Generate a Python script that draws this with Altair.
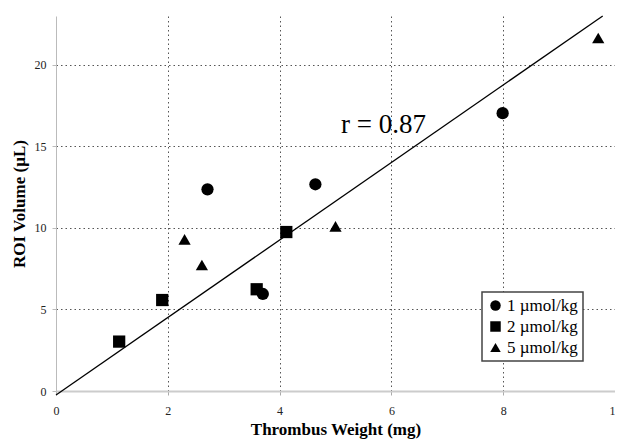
import altair as alt
import pandas as pd

# ---- data ----
dose_labels = ["1 µmol/kg", "2 µmol/kg", "5 µmol/kg"]
x_1 = [2.71, 3.70, 4.64, 7.99]
y_1 = [12.37, 5.95, 12.68, 17.04]
x_2 = [1.13, 1.90, 3.59, 4.12]
y_2 = [3.03, 5.58, 6.24, 9.75]
x_5 = [2.30, 2.61, 5.00, 9.70]
y_5 = [9.30, 7.73, 10.10, 21.65]
fit_x = [0.0, 9.78]
fit_y = [-0.25, 23.0]
r_label = ["r = 0.87"]
r_x = [5.1]
r_y = [15.8]
x_ticks = [0, 2, 4, 6, 8, 10]
y_ticks = [0, 5, 10, 15, 20]

FONT = "Liberation Serif"

pts = pd.DataFrame({
    "x": x_1 + x_2 + x_5,
    "y": y_1 + y_2 + y_5,
    "dose": [dose_labels[0]] * len(x_1) + [dose_labels[1]] * len(x_2) + [dose_labels[2]] * len(x_5),
})
fit = pd.DataFrame({"x": fit_x, "y": fit_y})
lab = pd.DataFrame({"x": r_x, "y": r_y, "t": r_label})

xscale = alt.Scale(domain=[0, 10], nice=False, zero=False)
yscale = alt.Scale(domain=[0, 23], nice=False, zero=False)

grid_op = {"condition": {"test": "datum.value === 0", "value": 0}, "value": 1}

xaxis = alt.Axis(
    values=x_ticks, title="Thrombus Weight (mg)", titleFont=FONT, titleFontSize=17,
    titleFontWeight="bold", titleColor="black", titleY=43, titleBaseline="alphabetic",
    labelFont=FONT, labelFontSize=12, labelColor="#222", labelPadding=10,
    labelFlush=False, labelOverlap=False,
    tickSize=4, tickColor="#aaa", domainColor="#cccccc", domainWidth=2,
    grid=True, gridDash=[1.5, 3], gridColor="#555", gridWidth=1, gridOpacity=grid_op,
)
yaxis = alt.Axis(
    values=y_ticks, title="ROI Volume (µL)", titleFont=FONT, titleFontSize=17,
    titleFontWeight="bold", titleColor="black", titleX=-32, titleY=187.5,
    titleAngle=270, titleBaseline="alphabetic", titleAlign="center",
    labelFont=FONT, labelFontSize=12, labelColor="#222", labelPadding=6,
    tickSize=4, tickColor="#bbb", domainColor="#bbbbbb", domainWidth=1,
    grid=True, gridDash=[1.5, 3], gridColor="#555", gridWidth=1, gridOpacity=grid_op,
)

points = alt.Chart(pts).mark_point(filled=True, opacity=1, color="black", size=150).encode(
    x=alt.X("x:Q", scale=xscale, axis=xaxis),
    y=alt.Y("y:Q", scale=yscale, axis=yaxis),
    shape=alt.Shape(
        "dose:N",
        scale=alt.Scale(domain=dose_labels, range=["circle", "square", "triangle-up"]),
        legend=alt.Legend(
            title=None, orient="none", legendX=426, legendY=276, direction="vertical",
            strokeColor="#444", fillColor="white", padding=5,
            labelFont=FONT, labelFontSize=17, labelColor="black", labelOffset=3,
            symbolSize=110, symbolStrokeWidth=0, symbolFillColor="black", rowPadding=3,
        ),
    ),
)

line = alt.Chart(fit).mark_line(color="black", strokeWidth=1.3, clip=False).encode(
    x=alt.X("x:Q", scale=xscale, axis=xaxis),
    y=alt.Y("y:Q", scale=yscale, axis=yaxis),
)

text = alt.Chart(lab).mark_text(
    align="left", baseline="alphabetic", font=FONT, fontSize=27, color="black"
).encode(
    x=alt.X("x:Q", scale=xscale, axis=xaxis),
    y=alt.Y("y:Q", scale=yscale, axis=yaxis),
    text="t:N",
)

chart = alt.layer(line, points, text).properties(
    width=559, height=375,
    autosize=alt.AutoSizeParams(type="none"),
    padding={"left": 48, "top": 8, "right": 0, "bottom": 48},
    background="white",
).configure_view(stroke=None).configure_legend(strokeWidth=1.5)

chart.save("out.html", embed_options={"renderer": "svg", "actions": False})
